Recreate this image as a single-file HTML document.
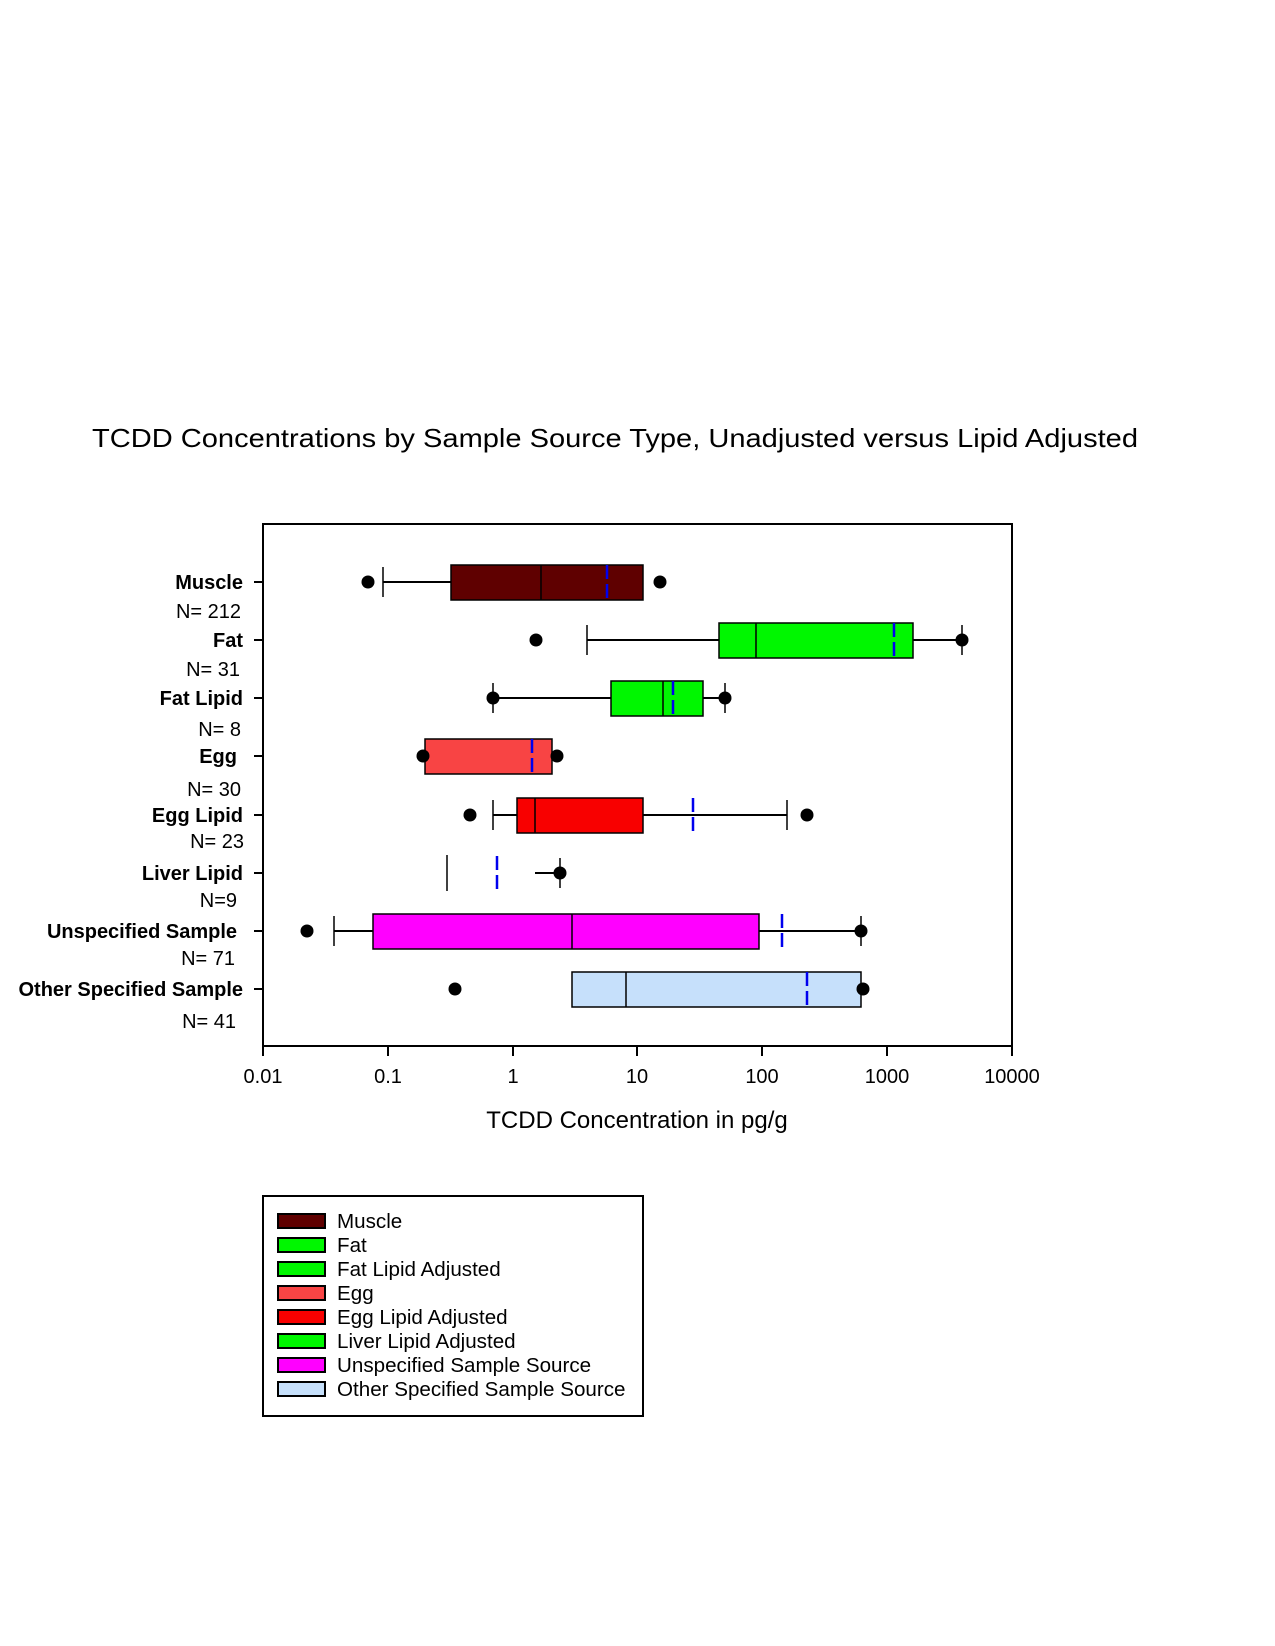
<!DOCTYPE html>
<html><head><meta charset="utf-8"><style>
html,body{margin:0;padding:0;background:#fff;}
svg{display:block;font-family:"Liberation Sans",Arial,sans-serif;}
</style></head><body>
<svg width="1275" height="1646" viewBox="0 0 1275 1646" xmlns="http://www.w3.org/2000/svg">
<text x="92" y="447" font-size="26" textLength="1046" lengthAdjust="spacingAndGlyphs">TCDD Concentrations by Sample Source Type, Unadjusted versus Lipid Adjusted</text>
<rect x="263" y="524" width="749" height="522" fill="none" stroke="#000" stroke-width="2"/>
<g stroke="#000" stroke-width="2">
<line x1="263" y1="1046" x2="263" y2="1056"/><line x1="388" y1="1046" x2="388" y2="1056"/><line x1="513" y1="1046" x2="513" y2="1056"/><line x1="637" y1="1046" x2="637" y2="1056"/><line x1="762" y1="1046" x2="762" y2="1056"/><line x1="887" y1="1046" x2="887" y2="1056"/><line x1="1012" y1="1046" x2="1012" y2="1056"/>
<line x1="254" y1="582" x2="263" y2="582"/><line x1="254" y1="640" x2="263" y2="640"/><line x1="254" y1="698" x2="263" y2="698"/><line x1="254" y1="756" x2="263" y2="756"/><line x1="254" y1="815" x2="263" y2="815"/><line x1="254" y1="873" x2="263" y2="873"/><line x1="254" y1="931" x2="263" y2="931"/><line x1="254" y1="989" x2="263" y2="989"/>
</g>
<g font-size="20" text-anchor="middle">
<text x="263" y="1083">0.01</text><text x="388" y="1083">0.1</text><text x="513" y="1083">1</text><text x="637" y="1083">10</text><text x="762" y="1083">100</text><text x="887" y="1083">1000</text><text x="1012" y="1083">10000</text>
</g>
<text x="637" y="1128" font-size="24" text-anchor="middle">TCDD Concentration in pg/g</text>
<g font-size="20" font-weight="bold" text-anchor="end">
<text x="243" y="589">Muscle</text><text x="243" y="647">Fat</text><text x="243" y="705">Fat Lipid</text><text x="237" y="763">Egg</text><text x="243" y="822">Egg Lipid</text><text x="243" y="880">Liver Lipid</text><text x="237" y="938">Unspecified Sample</text><text x="243" y="996">Other Specified Sample</text>
</g>
<g font-size="20" text-anchor="end">
<text x="241" y="618">N= 212</text><text x="240" y="676">N= 31</text><text x="241" y="736">N= 8</text><text x="241" y="796">N= 30</text><text x="244" y="848">N= 23</text><text x="237" y="907">N=9</text><text x="235" y="965">N= 71</text><text x="236" y="1028">N= 41</text>
</g>
<g stroke="#000" stroke-width="1.5">
<line x1="383" y1="582" x2="451" y2="582" stroke-width="2"/><line x1="383" y1="567" x2="383" y2="597"/>
<rect x="451" y="565" width="192" height="35" fill="#5f0000"/><line x1="541" y1="565" x2="541" y2="600"/>
<line x1="587" y1="640" x2="719" y2="640" stroke-width="2"/><line x1="913" y1="640" x2="962" y2="640" stroke-width="2"/><line x1="587" y1="625" x2="587" y2="655"/><line x1="962" y1="625" x2="962" y2="655"/>
<rect x="719" y="623" width="194" height="35" fill="#00f700"/><line x1="756" y1="623" x2="756" y2="658"/>
<line x1="493" y1="698" x2="611" y2="698" stroke-width="2"/><line x1="703" y1="698" x2="725" y2="698" stroke-width="2"/><line x1="493" y1="683" x2="493" y2="713"/><line x1="725" y1="683" x2="725" y2="713"/>
<rect x="611" y="681" width="92" height="35" fill="#00f700"/><line x1="663" y1="681" x2="663" y2="716"/>
<rect x="425" y="739" width="127" height="35" fill="#f84444"/>
<line x1="493" y1="815" x2="517" y2="815" stroke-width="2"/><line x1="643" y1="815" x2="787" y2="815" stroke-width="2"/><line x1="493" y1="800" x2="493" y2="830"/><line x1="787" y1="800" x2="787" y2="830"/>
<rect x="517" y="798" width="126" height="35" fill="#f80000"/><line x1="535" y1="798" x2="535" y2="833"/>
<line x1="447" y1="855" x2="447" y2="891"/><line x1="535" y1="873" x2="560" y2="873" stroke-width="2"/><line x1="560" y1="858" x2="560" y2="888"/>
<line x1="334" y1="931" x2="373" y2="931" stroke-width="2"/><line x1="759" y1="931" x2="861" y2="931" stroke-width="2"/><line x1="334" y1="916" x2="334" y2="946"/><line x1="861" y1="916" x2="861" y2="946"/>
<rect x="373" y="914" width="386" height="35" fill="#ff00ff"/><line x1="572" y1="914" x2="572" y2="949"/>
<rect x="572" y="972" width="289" height="35" fill="#c6e0fb"/><line x1="626" y1="972" x2="626" y2="1007"/>
</g>
<g stroke="#0000ee" stroke-width="2.5" stroke-dasharray="14 5">
<line x1="607" y1="565" x2="607" y2="600"/><line x1="894" y1="623" x2="894" y2="658"/><line x1="673" y1="681" x2="673" y2="716"/><line x1="532" y1="739" x2="532" y2="774"/><line x1="693" y1="798" x2="693" y2="833"/><line x1="497" y1="856" x2="497" y2="891"/><line x1="782" y1="914" x2="782" y2="949"/><line x1="807" y1="972" x2="807" y2="1007"/>
</g>
<g fill="#000">
<circle cx="368" cy="582" r="6.5"/><circle cx="660" cy="582" r="6.5"/>
<circle cx="536" cy="640" r="6.5"/><circle cx="962" cy="640" r="6.5"/>
<circle cx="493" cy="698" r="6.5"/><circle cx="725" cy="698" r="6.5"/>
<circle cx="423" cy="756" r="6.5"/><circle cx="557" cy="756" r="6.5"/>
<circle cx="470" cy="815" r="6.5"/><circle cx="807" cy="815" r="6.5"/>
<circle cx="560" cy="873" r="6.5"/>
<circle cx="307" cy="931" r="6.5"/><circle cx="861" cy="931" r="6.5"/>
<circle cx="455" cy="989" r="6.5"/><circle cx="863" cy="989" r="6.5"/>
</g>
<rect x="263" y="1196" width="380" height="220" fill="none" stroke="#000" stroke-width="2"/>
<g stroke="#000" stroke-width="2">
<rect x="278" y="1214" width="47" height="14" fill="#5f0000"/>
<rect x="278" y="1238" width="47" height="14" fill="#00f700"/>
<rect x="278" y="1262" width="47" height="14" fill="#00f700"/>
<rect x="278" y="1286" width="47" height="14" fill="#f84444"/>
<rect x="278" y="1310" width="47" height="14" fill="#f80000"/>
<rect x="278" y="1334" width="47" height="14" fill="#00f700"/>
<rect x="278" y="1358" width="47" height="14" fill="#ff00ff"/>
<rect x="278" y="1382" width="47" height="14" fill="#c6e0fb"/>
</g>
<g font-size="20.6">
<text x="337" y="1228">Muscle</text><text x="337" y="1252">Fat</text><text x="337" y="1276">Fat Lipid Adjusted</text><text x="337" y="1300">Egg</text><text x="337" y="1324">Egg Lipid Adjusted</text><text x="337" y="1348">Liver Lipid Adjusted</text><text x="337" y="1372">Unspecified Sample Source</text><text x="337" y="1396">Other Specified Sample Source</text>
</g>
</svg>
</body></html>
